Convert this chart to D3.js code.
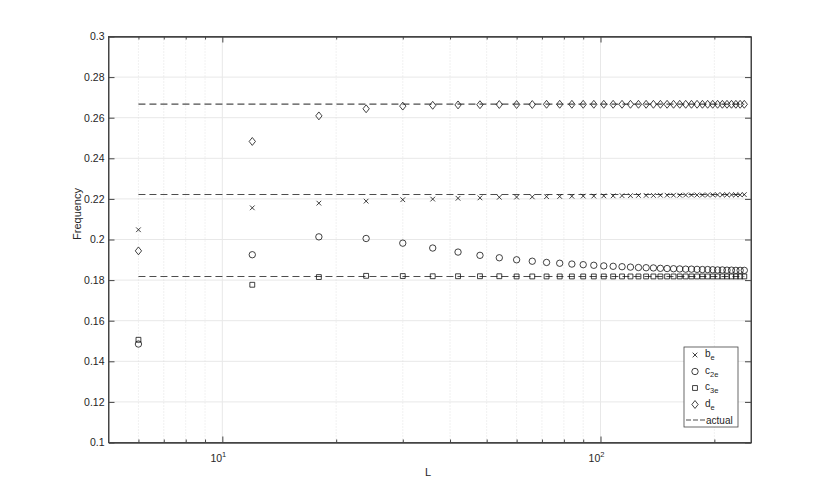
<!DOCTYPE html>
<html>
<head>
<meta charset="utf-8">
<style>
  body { margin: 0; background: #fff; }
  text { font-family: "Liberation Sans", Helvetica, Arial, sans-serif; }
</style>
</head>
<body>
<script src="https://cdn.jsdelivr.net/npm/d3@7"></script>
<script>
// sample sizes
var L = [6, 12, 18, 24, 30, 36, 42, 48, 54, 60, 66, 72, 78, 84, 90, 96, 102, 108, 114, 120,
         126, 132, 138, 144, 150, 156, 162, 168, 174, 180, 186, 192, 198, 204, 210, 216, 222, 228, 234, 240];

var bE = [0.2048, 0.2156, 0.2179, 0.2189, 0.2196, 0.2199, 0.2203, 0.2205, 0.2208, 0.2209,
          0.2210, 0.2211, 0.2212, 0.2213, 0.2214, 0.2214, 0.2215, 0.2215, 0.2216, 0.2216,
          0.2217, 0.2217, 0.2217, 0.2218, 0.2218, 0.2218, 0.2218, 0.2219, 0.2219, 0.2219,
          0.2219, 0.2219, 0.2220, 0.2220, 0.2220, 0.2220, 0.2220, 0.2220, 0.2220, 0.2221];

var c2E = [0.1485, 0.1925, 0.2013, 0.2005, 0.1982, 0.1958, 0.1938, 0.1922, 0.1910, 0.1900,
           0.1893, 0.1887, 0.1883, 0.1879, 0.1876, 0.1873, 0.1870, 0.1868, 0.1866, 0.1864,
           0.1862, 0.1861, 0.1860, 0.1858, 0.1857, 0.1856, 0.1855, 0.1854, 0.1854, 0.1853,
           0.1852, 0.1852, 0.1851, 0.1850, 0.1850, 0.1849, 0.1849, 0.1848, 0.1848, 0.1848];

var c3E = [0.1506, 0.1777, 0.1815, 0.1821, 0.1820, 0.1819, 0.1819, 0.1819, 0.1819, 0.1818,
           0.1818, 0.1818, 0.1818, 0.1818, 0.1818, 0.1818, 0.1818, 0.1818, 0.1818, 0.1818,
           0.1818, 0.1818, 0.1818, 0.1818, 0.1818, 0.1818, 0.1818, 0.1818, 0.1818, 0.1818,
           0.1818, 0.1818, 0.1818, 0.1818, 0.1818, 0.1818, 0.1818, 0.1818, 0.1818, 0.1818];

var dE = [0.1944, 0.2483, 0.2609, 0.2644, 0.2657, 0.2661, 0.2663, 0.2664, 0.2665, 0.2665,
          0.2665, 0.2666, 0.2666, 0.2666, 0.2666, 0.2666, 0.2666, 0.2666, 0.2666, 0.2666,
          0.2666, 0.2666, 0.2666, 0.2666, 0.2666, 0.2666, 0.2666, 0.2666, 0.2666, 0.2666,
          0.2666, 0.2666, 0.2666, 0.2666, 0.2666, 0.2666, 0.2666, 0.2666, 0.2666, 0.2666];

var actual = [0.2667, 0.2222, 0.1818];

var yTicks = [0.1, 0.12, 0.14, 0.16, 0.18, 0.2, 0.22, 0.24, 0.26, 0.28, 0.3];
var xMajor = [10, 100];
var xMinor = [6, 7, 8, 9, 20, 30, 40, 50, 60, 70, 80, 90, 200];

var width = 830, height = 497;
var svg = d3.select('body').append('svg')
    .attr('width', width).attr('height', height);

var x = d3.scaleLog().domain([5, 250]).range([108.5, 751]);
var y = d3.scaleLinear().domain([0.1, 0.3]).range([442.5, 36.5]);

var axisColor = '#444', gridColor = '#e8e8e8';

// grid
svg.append('g').selectAll('line').data(yTicks.slice(1, -1)).enter().append('line')
    .attr('x1', x.range()[0]).attr('x2', x.range()[1])
    .attr('y1', function (d) { return y(d); }).attr('y2', function (d) { return y(d); })
    .attr('stroke', gridColor).attr('stroke-width', 1);
svg.append('g').selectAll('line').data(xMinor).enter().append('line')
    .attr('x1', function (d) { return x(d); }).attr('x2', function (d) { return x(d); })
    .attr('y1', y.range()[0]).attr('y2', y.range()[1])
    .attr('stroke', '#dcdcdc').attr('stroke-width', 0.8).attr('stroke-dasharray', '1,2');
svg.append('g').selectAll('line').data(xMajor).enter().append('line')
    .attr('x1', function (d) { return x(d); }).attr('x2', function (d) { return x(d); })
    .attr('y1', y.range()[0]).attr('y2', y.range()[1])
    .attr('stroke', gridColor).attr('stroke-width', 1);

// axes with inward ticks
var fmtY = function (d) { return d3.format('~g')(+d.toFixed(2)); };
svg.append('g').attr('transform', 'translate(' + x.range()[0] + ',0)')
    .call(d3.axisLeft(y).tickValues(yTicks).tickFormat(fmtY).tickSizeInner(-6).tickSizeOuter(0).tickPadding(4));
svg.append('g').attr('transform', 'translate(' + x.range()[1] + ',0)')
    .call(d3.axisRight(y).tickValues(yTicks).tickFormat('').tickSizeInner(-6).tickSizeOuter(0));
svg.append('g').attr('transform', 'translate(0,' + y.range()[0] + ')')
    .call(d3.axisBottom(x).tickValues(xMajor).tickFormat('').tickSizeInner(-6).tickSizeOuter(0));
svg.append('g').attr('transform', 'translate(0,' + y.range()[0] + ')')
    .call(d3.axisBottom(x).tickValues(xMinor).tickFormat('').tickSizeInner(-3).tickSizeOuter(0));
svg.append('g').attr('transform', 'translate(0,' + y.range()[1] + ')')
    .call(d3.axisTop(x).tickValues(xMajor).tickFormat('').tickSizeInner(-6).tickSizeOuter(0));
svg.append('g').attr('transform', 'translate(0,' + y.range()[1] + ')')
    .call(d3.axisTop(x).tickValues(xMinor).tickFormat('').tickSizeInner(-3).tickSizeOuter(0));

svg.selectAll('.domain').attr('stroke', axisColor);
svg.selectAll('.tick line').attr('stroke', axisColor);
svg.selectAll('.tick text').attr('font-size', 10.5).attr('fill', '#262626')
    .style('font-family', '"Liberation Sans", Helvetica, Arial, sans-serif');

// x tick labels 10^1, 10^2
xMajor.forEach(function (d) {
    var t = svg.append('text').attr('x', x(d) - 4).attr('y', 462)
        .attr('text-anchor', 'middle').attr('font-size', 10.5).attr('fill', '#262626');
    t.append('tspan').text('10');
    t.append('tspan').attr('dy', -5).attr('font-size', 7.5).text(Math.round(Math.log10(d)));
});

svg.append('rect')
    .attr('x', x.range()[0]).attr('y', y.range()[1])
    .attr('width', x.range()[1] - x.range()[0]).attr('height', y.range()[0] - y.range()[1])
    .attr('fill', 'none').attr('stroke', axisColor).attr('stroke-width', 1);

// labels
svg.append('text').attr('x', 428).attr('y', 476).attr('text-anchor', 'middle')
    .attr('font-size', 11).attr('fill', '#262626').text('L');
svg.append('text').attr('transform', 'translate(81,214) rotate(-90)')
    .attr('text-anchor', 'middle').attr('font-size', 11).attr('fill', '#262626').text('Frequency');

// actual lines
svg.append('g').selectAll('line').data(actual).enter().append('line')
    .attr('x1', x(L[0])).attr('x2', x(L[L.length - 1]))
    .attr('y1', function (d) { return y(d); }).attr('y2', function (d) { return y(d); })
    .attr('stroke', '#4d4d4d').attr('stroke-width', 1.1).attr('stroke-dasharray', '7,4');

// markers
var diamondType = {
    draw: function (ctx, size) {
        var h = Math.sqrt(size) * 0.72, w = h * 0.8;
        ctx.moveTo(0, -h); ctx.lineTo(w, 0); ctx.lineTo(0, h); ctx.lineTo(-w, 0); ctx.closePath();
    }
};
var series = [
    { values: bE, type: d3.symbolTimes, size: 16 },
    { values: c2E, type: d3.symbolCircle, size: 32 },
    { values: c3E, type: d3.symbolSquare2, size: 30 },
    { values: dE, type: diamondType, size: 30 }
];
series.forEach(function (s) {
    var sym = d3.symbol().type(s.type).size(s.size);
    svg.append('g').selectAll('path').data(s.values).enter().append('path')
        .attr('d', sym)
        .attr('transform', function (d, i) { return 'translate(' + x(L[i]) + ',' + y(d) + ')'; })
        .attr('fill', 'none').attr('stroke', '#111').attr('stroke-width', 0.8);
});

// legend
var lg = svg.append('g').attr('transform', 'translate(684,347)');
lg.append('rect').attr('width', 54).attr('height', 80)
    .attr('fill', '#fff').attr('stroke', axisColor).attr('stroke-width', 0.8);
var legendItems = [
    { base: 'b', sub: 'e' }, { base: 'c', sub: '2e' }, { base: 'c', sub: '3e' }, { base: 'd', sub: 'e' }
];
legendItems.forEach(function (it, i) {
    var cy = 8 + i * 16.5;
    var sym = d3.symbol().type(series[i].type).size(series[i].size);
    lg.append('path').attr('d', sym).attr('transform', 'translate(11,' + cy + ')')
        .attr('fill', 'none').attr('stroke', '#111').attr('stroke-width', 0.8);
    var t = lg.append('text').attr('x', 21).attr('y', cy + 2).attr('font-size', 10).attr('fill', '#262626');
    t.append('tspan').text(it.base);
    t.append('tspan').attr('dy', 3).attr('font-size', 7.5).text(it.sub);
});
lg.append('line').attr('x1', 2).attr('x2', 22).attr('y1', 73).attr('y2', 73)
    .attr('stroke', '#4d4d4d').attr('stroke-width', 1.1).attr('stroke-dasharray', '5,2');
lg.append('text').attr('x', 22).attr('y', 76.5).attr('font-size', 10).attr('fill', '#262626').text('actual');
</script>
</body>
</html>
